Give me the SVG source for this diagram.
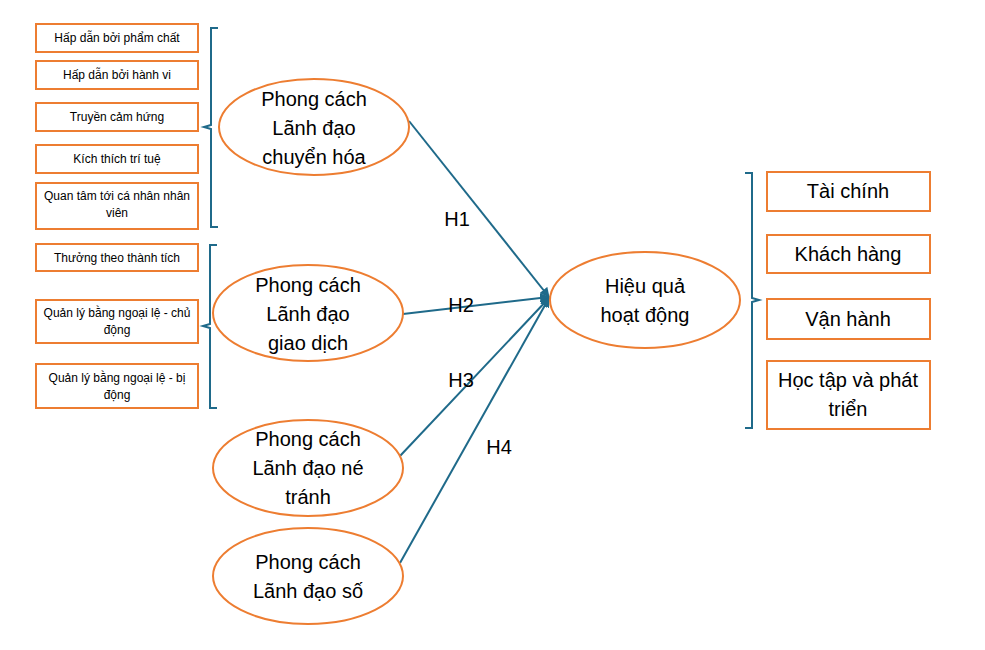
<svg xmlns="http://www.w3.org/2000/svg" width="985" height="650" viewBox="0 0 985 650">
<defs>
<style>
.b{fill:#fff;stroke:#ED7D31;stroke-width:2}
.e{fill:#fff;stroke:#ED7D31;stroke-width:2}
.s{font-family:"Liberation Sans",Arial,sans-serif;font-size:12px;text-anchor:middle;fill:#000}
.m{font-family:"Liberation Sans",Arial,sans-serif;font-size:20px;text-anchor:middle;fill:#000}
.l{font-family:"Liberation Sans",Arial,sans-serif;font-size:20px;text-anchor:middle;fill:#000}
.c{fill:none;stroke:#1F6A8A;stroke-width:2}
</style>
<marker id="a" viewBox="0 0 10 10" refX="9" refY="5" markerWidth="5" markerHeight="5" orient="auto"><path d="M0,0L10,5L0,10z" fill="#1F6A8A"/></marker>
</defs>
<rect width="985" height="650" fill="#fff"/>
<g id="sub1">
<rect class="b" x="36" y="24" width="162" height="28"/><text class="s" x="117" y="42">Hấp dẫn bởi phẩm chất</text>
<rect class="b" x="36" y="61" width="162" height="28"/><text class="s" x="117" y="79">Hấp dẫn bởi hành vi</text>
<rect class="b" x="36" y="103" width="162" height="28"/><text class="s" x="117" y="121">Truyền cảm hứng</text>
<rect class="b" x="36" y="145" width="162" height="28"/><text class="s" x="117" y="163">Kích thích trí tuệ</text>
<rect class="b" x="36" y="183" width="162" height="46"/><text class="s" x="117" y="200">Quan tâm tới cá nhân nhân</text><text class="s" x="117" y="217">viên</text>
</g>
<g id="sub2">
<rect class="b" x="36" y="244" width="162" height="27"/><text class="s" x="117" y="262">Thưởng theo thành tích</text>
<rect class="b" x="36" y="300" width="162" height="43"/><text class="s" x="117" y="317">Quản lý bằng ngoại lệ - chủ</text><text class="s" x="117" y="334">động</text>
<rect class="b" x="36" y="364" width="162" height="44"/><text class="s" x="117" y="382">Quản lý bằng ngoại lệ - bị</text><text class="s" x="117" y="399">động</text>
</g>
<g id="sub3">
<rect class="b" x="767" y="172" width="163" height="39"/><text class="m" x="848" y="198">Tài chính</text>
<rect class="b" x="767" y="235" width="163" height="38"/><text class="m" x="848" y="261">Khách hàng</text>
<rect class="b" x="767" y="299" width="163" height="40"/><text class="m" x="848" y="326">Vận hành</text>
<rect class="b" x="767" y="361" width="163" height="68"/><text class="m" x="848" y="387">Học tập và phát</text><text class="m" x="848" y="416">triển</text>
</g>
<g id="brackets">
<path class="c" d="M218,28 H211 V125 L204,127 L211,129 V227 H218"/>
<path class="c" d="M217,245 H210 V324 L203,326 L210,328 V408 H217"/>
<path class="c" d="M745,173 H752 V298 L759,300 L752,302 V428 H745"/>
</g>
<g id="connectors">
<line class="c" x1="409" y1="121" x2="549" y2="297" marker-end="url(#a)"/>
<line class="c" x1="403" y1="314" x2="549" y2="297" marker-end="url(#a)"/>
<line class="c" x1="400" y1="456" x2="549" y2="298" marker-end="url(#a)"/>
<line class="c" x1="400" y1="563" x2="549" y2="298" marker-end="url(#a)"/>
<text class="l" x="457" y="226">H1</text>
<text class="l" x="461" y="312">H2</text>
<text class="l" x="461" y="387">H3</text>
<text class="l" x="499" y="454">H4</text>
</g>
<g id="n1"><ellipse class="e" cx="314" cy="127" rx="95" ry="48"/><text class="m" x="314" y="106">Phong cách</text><text class="m" x="314" y="135">Lãnh đạo</text><text class="m" x="314" y="164">chuyển hóa</text></g>
<g id="n2"><ellipse class="e" cx="308" cy="313" rx="95" ry="48"/><text class="m" x="308" y="292">Phong cách</text><text class="m" x="308" y="321">Lãnh đạo</text><text class="m" x="308" y="350">giao dịch</text></g>
<g id="n3"><ellipse class="e" cx="308" cy="468" rx="95" ry="48"/><text class="m" x="308" y="446">Phong cách</text><text class="m" x="308" y="475">Lãnh đạo né</text><text class="m" x="308" y="504">tránh</text></g>
<g id="n4"><ellipse class="e" cx="308" cy="576" rx="95" ry="48"/><text class="m" x="308" y="569">Phong cách</text><text class="m" x="308" y="598">Lãnh đạo số</text></g>
<g id="target"><ellipse class="e" cx="645" cy="300" rx="95" ry="48"/><text class="m" x="645" y="293">Hiệu quả</text><text class="m" x="645" y="322">hoạt động</text></g>
</svg>
